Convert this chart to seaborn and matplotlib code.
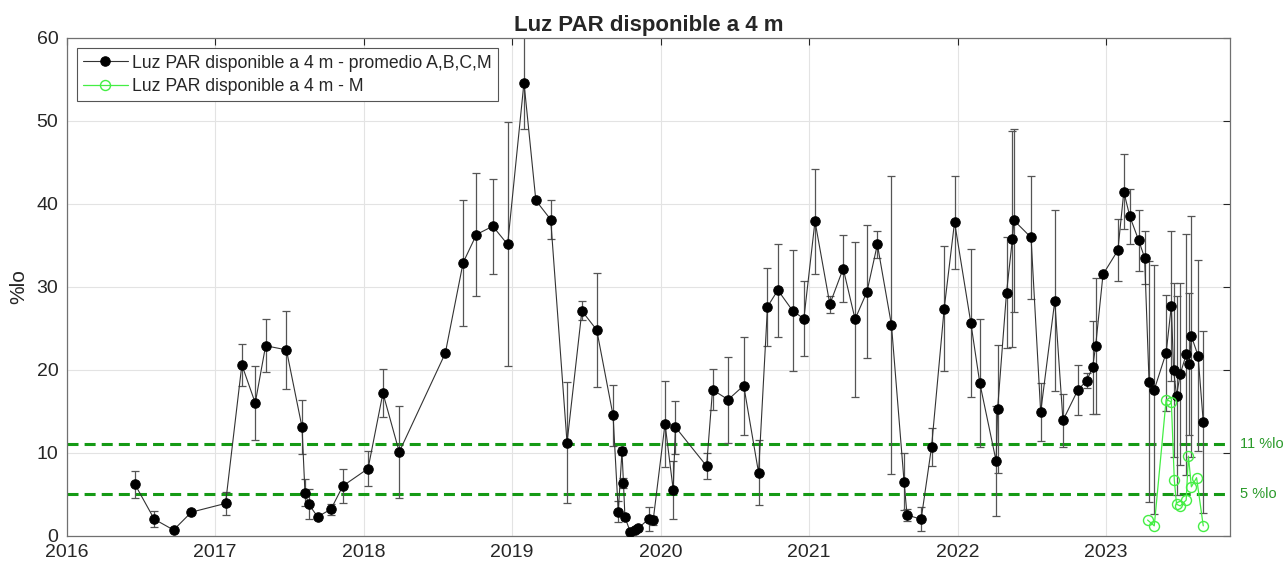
import numpy as np
import pandas as pd
import matplotlib
matplotlib.use('Agg')
import matplotlib.pyplot as plt
import seaborn as sns

# promedio A,B,C,M (fecha en años decimales, valor %Io, error)
fecha = [2016.46, 2016.59, 2016.72, 2016.84, 2017.07, 2017.18, 2017.27, 2017.34, 2017.48, 2017.585,
         2017.605, 2017.63, 2017.69, 2017.78, 2017.86, 2018.03, 2018.13, 2018.24, 2018.55, 2018.67,
         2018.76, 2018.87, 2018.97, 2019.08, 2019.16, 2019.26, 2019.37, 2019.47, 2019.57, 2019.68,
         2019.715, 2019.74, 2019.75, 2019.76, 2019.795, 2019.825, 2019.85, 2019.92, 2019.95, 2020.03,
         2020.085, 2020.10, 2020.31, 2020.35, 2020.455, 2020.56, 2020.66, 2020.72, 2020.79, 2020.89,
         2020.965, 2021.04, 2021.14, 2021.23, 2021.31, 2021.39, 2021.46, 2021.555, 2021.64, 2021.66,
         2021.755, 2021.825, 2021.91, 2021.98, 2022.09, 2022.15, 2022.26, 2022.27, 2022.33, 2022.37,
         2022.38, 2022.495, 2022.56, 2022.655, 2022.71, 2022.81, 2022.87, 2022.91, 2022.93, 2022.98,
         2023.08, 2023.12, 2023.16, 2023.22, 2023.26, 2023.29, 2023.325, 2023.405, 2023.44, 2023.455,
         2023.475, 2023.50, 2023.54, 2023.56, 2023.575, 2023.62, 2023.655]
promedio = [6.2, 2.0, 0.7, 2.85, 3.9, 20.6, 16.0, 22.9, 22.4, 13.1,
            5.2, 3.8, 2.3, 3.2, 6.0, 8.1, 17.2, 10.1, 22.0, 32.9,
            36.3, 37.3, 35.1, 54.6, 40.4, 38.1, 11.2, 27.1, 24.8, 14.5,
            2.9, 10.2, 6.4, 2.25, 0.5, 0.7, 0.9, 2.05, 1.85, 13.5,
            5.55, 13.1, 8.4, 17.6, 16.4, 18.1, 7.6, 27.6, 29.6, 27.1,
            26.15, 37.9, 27.9, 32.2, 26.1, 29.4, 35.1, 25.4, 6.5, 2.5,
            2.0, 10.7, 27.35, 37.8, 25.6, 18.4, 9.0, 15.3, 29.3, 35.8,
            38.0, 35.95, 14.9, 28.3, 13.9, 17.55, 18.7, 20.3, 22.85, 31.5,
            34.4, 41.45, 38.5, 35.6, 33.5, 18.55, 17.6, 22.05, 27.7, 20.0,
            16.9, 19.5, 21.85, 20.7, 24.05, 21.7, 13.7]
error = [1.6, 0.95, 0, 0, 1.4, 2.5, 4.4, 3.2, 4.7, 3.3,
         1.6, 1.8, 0, 0.65, 2.0, 2.1, 2.85, 5.5, 0, 7.6,
         7.4, 5.7, 14.7, 5.6, 0, 2.35, 7.3, 1.15, 6.85, 3.7,
         1.25, 0.5, 0.6, 0.4, 0, 0, 0, 1.45, 0.5, 5.2,
         3.5, 3.2, 1.6, 2.45, 5.2, 5.9, 3.9, 4.7, 5.6, 7.3,
         4.5, 6.35, 1.0, 4.0, 9.35, 8.0, 1.6, 18.0, 3.45, 0.7,
         1.45, 2.3, 7.55, 5.6, 8.9, 7.7, 6.6, 7.7, 6.7, 13.0,
         11.0, 7.4, 3.5, 10.9, 3.2, 3.05, 0.95, 5.6, 8.2, 0,
         3.75, 4.5, 3.3, 3.7, 3.2, 14.5, 15.0, 7.0, 9.0, 10.5,
         12.0, 11.0, 14.5, 8.5, 14.5, 11.5, 11.0]

# estación M
fecha_m = [2023.28, 2023.325, 2023.405, 2023.44, 2023.46, 2023.475, 2023.50, 2023.54, 2023.555,
           2023.575, 2023.61, 2023.655]
valor_m = [1.9, 1.2, 16.4, 16.15, 6.7, 3.8, 3.6, 4.3, 9.6, 5.9, 7.0, 1.2]

umbrales = [11, 5]
umbral_txt = ['11 %lo', '5 %lo']
anios = list(range(2016, 2024))

df = pd.DataFrame({'fecha': fecha, 'valor': promedio, 'err': error})
df_m = pd.DataFrame({'fecha': fecha_m, 'valor': valor_m})

sns.set_theme(style='whitegrid')
plt.rcParams['font.family'] = ['Liberation Sans', 'DejaVu Sans']

fig = plt.figure(figsize=(12.87, 5.64), dpi=100)
ax = fig.add_axes([0.0518, 0.050, 0.9039, 0.883])

ax.errorbar(df['fecha'], df['valor'], yerr=df['err'], fmt='none', ecolor='#555555',
            elinewidth=0.9, capsize=3.2, capthick=0.9, zorder=2)
sns.lineplot(data=df, x='fecha', y='valor', ax=ax, sort=False, estimator=None,
             color='#333333', linewidth=0.8, marker='o', markersize=6.8,
             markerfacecolor='black', markeredgecolor='black',
             label='Luz PAR disponible a 4 m - promedio A,B,C,M', zorder=3)
sns.lineplot(data=df_m, x='fecha', y='valor', ax=ax, sort=False, estimator=None,
             color='#44ee44', linewidth=0.9, marker='o', markersize=7.2,
             markerfacecolor='none', markeredgecolor='#44ee44', markeredgewidth=1.0,
             label='Luz PAR disponible a 4 m - M', zorder=4)

for u, t in zip(umbrales, umbral_txt):
    ax.axhline(u, color='#159a15', linestyle=(0, (3.6, 2.0)), linewidth=2.2, zorder=1)
    ax.text(1.009, u, t, transform=ax.get_yaxis_transform(), color='#2a9a2a',
            fontsize=10.5, va='center', ha='left')

ax.set_xlim(2016, 2023.835)
ax.set_ylim(0, 60)
ax.set_xticks(anios)
ax.set_xticklabels([str(a) for a in anios])
ax.set_yticks(range(0, 61, 10))
ax.tick_params(axis='both', labelsize=14, colors='#262626', direction='in',
               length=5, width=0.8, top=True, right=True)
ax.tick_params(axis='x', pad=6)
ax.tick_params(axis='y', pad=6, labelright=False)
ax.grid(True, color='#e3e3e3', linewidth=0.8)
for s in ax.spines.values():
    s.set_color('#707070')
    s.set_linewidth(0.9)
ax.set_xlabel('')
ax.set_ylabel('%lo', fontsize=15, color='#262626', labelpad=6)
ax.set_title('Luz PAR disponible a 4 m', fontsize=16, fontweight='bold', pad=5)

leg = ax.legend(loc='upper left', fontsize=12.7, frameon=True, fancybox=False,
                edgecolor='#555555', borderaxespad=0.6, handlelength=2.5,
                borderpad=0.35, labelspacing=0.36, handletextpad=0.25)
leg.get_frame().set_linewidth(0.8)
leg.get_frame().set_alpha(1)

fig.savefig('out.png', dpi=100)
